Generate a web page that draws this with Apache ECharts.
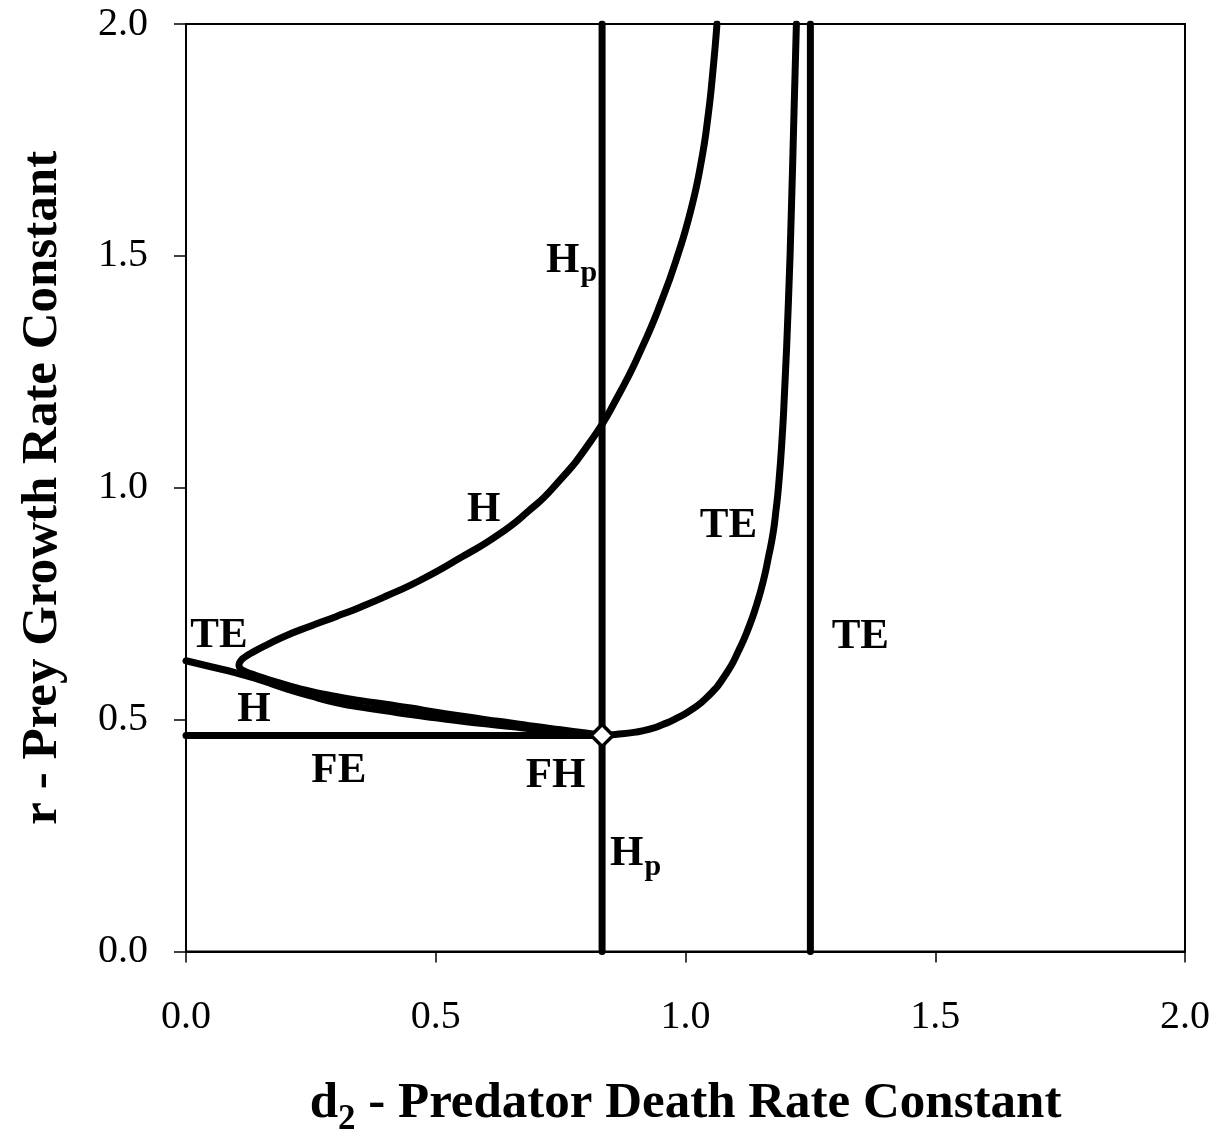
<!DOCTYPE html>
<html>
<head>
<meta charset="utf-8">
<script src="https://cdn.jsdelivr.net/npm/echarts@6/dist/echarts.min.js"></script>
<style>
html,body{margin:0;padding:0;background:#fff;}
#chart{width:1220px;height:1142px;}
</style>
</head>
<body>
<div id="chart"></div>
<script>
// ---- data (d2, r) ----
const axisTicks = [0.0, 0.5, 1.0, 1.5, 2.0];

const hpLine = [[0.833, 0], [0.833, 2]];
const teVertical = [[1.25, 0], [1.25, 2]];
const feLine = [[0, 0.466], [0.833, 0.466]];

const teLeft = [[0, 0.627], [0.05, 0.614], [0.1, 0.601], [0.15, 0.585], [0.2, 0.567], [0.25, 0.551],
  [0.3, 0.537], [0.35, 0.527], [0.4, 0.519], [0.45, 0.511], [0.5, 0.504], [0.55, 0.497], [0.6, 0.491],
  [0.65, 0.485], [0.7, 0.479], [0.75, 0.474], [0.8, 0.469], [0.833, 0.466]];

const hCurve = [[0.833, 0.466], [0.8, 0.471], [0.75, 0.478], [0.7, 0.485], [0.65, 0.493], [0.6, 0.5],
  [0.55, 0.508], [0.5, 0.516], [0.45, 0.525], [0.4, 0.533], [0.35, 0.541], [0.3, 0.55], [0.25, 0.561],
  [0.2, 0.575], [0.16, 0.588], [0.135, 0.597], [0.118, 0.604], [0.109, 0.61], [0.106, 0.617],
  [0.109, 0.626], [0.118, 0.635], [0.135, 0.646], [0.16, 0.66], [0.2, 0.681], [0.25, 0.702],
  [0.3, 0.722], [0.35, 0.743], [0.4, 0.766], [0.468, 0.8], [0.551, 0.85], [0.627, 0.9], [0.686, 0.95],
  [0.735, 1.0], [0.81, 1.1], [0.866, 1.2], [0.912, 1.3], [0.951, 1.4], [0.984, 1.5], [1.011, 1.6],
  [1.031, 1.7], [1.045, 1.8], [1.055, 1.9], [1.063, 2.0]];

const teRight = [[0.833, 0.466], [0.86, 0.468], [0.9, 0.473], [0.93, 0.48], [0.956, 0.49], [0.977, 0.5],
  [1.01, 0.52], [1.045, 0.55], [1.082, 0.6], [1.107, 0.65], [1.127, 0.7], [1.143, 0.75], [1.156, 0.8],
  [1.166, 0.85], [1.175, 0.9], [1.181, 0.95], [1.186, 1.0], [1.193, 1.1], [1.198, 1.2], [1.206, 1.4],
  [1.212, 1.6], [1.217, 1.8], [1.222, 2.0]];

const fhPoint = [[0.833, 0.466]];

const labelTexts = ['{n|H}{s|p}', '{n|H}', '{n|TE}', '{n|TE}', '{n|TE}', '{n|H}', '{n|FE}', '{n|FH}', '{n|H}{s|p}'];
const labelPos = [[0.772, 1.49], [0.596, 0.952], [1.086, 0.917], [1.35, 0.678], [0.066, 0.68],
  [0.136, 0.521], [0.306, 0.39], [0.74, 0.379], [0.9, 0.21]];

const xTitle = '{n|d}{s|2}{n| - Predator Death Rate Constant}';
const yTitle = 'r - Prey Growth Rate Constant';

// ---- chart ----
const FONT = '"Liberation Serif", "Times New Roman", serif';
const chart = echarts.init(document.getElementById('chart'), null, {renderer: 'canvas'});

function lineSeries(data, smooth) {
  return {
    type: 'line', data: data, showSymbol: false, symbol: 'none',
    smooth: smooth ? 0.55 : false, clip: true,
    lineStyle: {color: '#000', width: 7, cap: 'round', join: 'round'},
    silent: true, z: 2
  };
}

const labelRich = {
  n: {fontFamily: FONT, fontWeight: 'bold', fontSize: 43, color: '#000', lineHeight: 48},
  s: {fontFamily: FONT, fontWeight: 'bold', fontSize: 30, color: '#000', lineHeight: 48, padding: [26, 0, 0, 1]}
};

chart.setOption({
  animation: false,
  backgroundColor: '#fff',
  grid: {left: 186, right: 35, top: 24, bottom: 189, show: true, borderColor: '#000', borderWidth: 2, backgroundColor: 'transparent'},
  xAxis: {
    type: 'value', min: 0, max: 2, interval: 0.5,
    axisLine: {show: true, lineStyle: {color: '#000', width: 2}},
    axisTick: {show: true, inside: false, length: 11, lineStyle: {color: '#000', width: 1.5}},
    splitLine: {show: false},
    axisLabel: {fontFamily: FONT, fontSize: 40, color: '#000', margin: 46, formatter: v => v.toFixed(1)},
    name: xTitle, nameLocation: 'middle', nameGap: 123,
    nameTextStyle: {
      rich: {
        n: {fontFamily: FONT, fontWeight: 'bold', fontSize: 51, color: '#000', lineHeight: 58},
        s: {fontFamily: FONT, fontWeight: 'bold', fontSize: 35, color: '#000', lineHeight: 58, padding: [32, 0, 0, 0]}
      }
    }
  },
  yAxis: {
    type: 'value', min: 0, max: 2, interval: 0.5,
    axisLine: {show: true, lineStyle: {color: '#000', width: 2}},
    axisTick: {show: true, inside: false, length: 12, lineStyle: {color: '#000', width: 1.5}},
    splitLine: {show: false},
    axisLabel: {fontFamily: FONT, fontSize: 40, color: '#000', margin: 38, formatter: v => v.toFixed(1)},
    name: yTitle, nameLocation: 'middle', nameGap: 118, nameRotate: 90,
    nameTextStyle: {fontFamily: FONT, fontWeight: 'bold', fontSize: 51, color: '#000'}
  },
  series: [
    lineSeries(hpLine, false),
    lineSeries(teVertical, false),
    lineSeries(feLine, false),
    lineSeries(teLeft, true),
    lineSeries(hCurve, true),
    lineSeries(teRight, true),
    {
      type: 'scatter', data: fhPoint, symbol: 'diamond', symbolSize: [22, 22],
      itemStyle: {color: '#fff', borderColor: '#000', borderWidth: 3.5, opacity: 1}, z: 5, silent: true
    },
    {
      type: 'scatter', symbolSize: 0, silent: true, z: 6,
      itemStyle: {opacity: 1, color: '#000'},
      data: labelPos.map((p, i) => ({value: p, label: {formatter: labelTexts[i]}})),
      label: {show: true, position: 'inside', color: '#000', textBorderWidth: 0, rich: labelRich}
    }
  ]
});
</script>
</body>
</html>
